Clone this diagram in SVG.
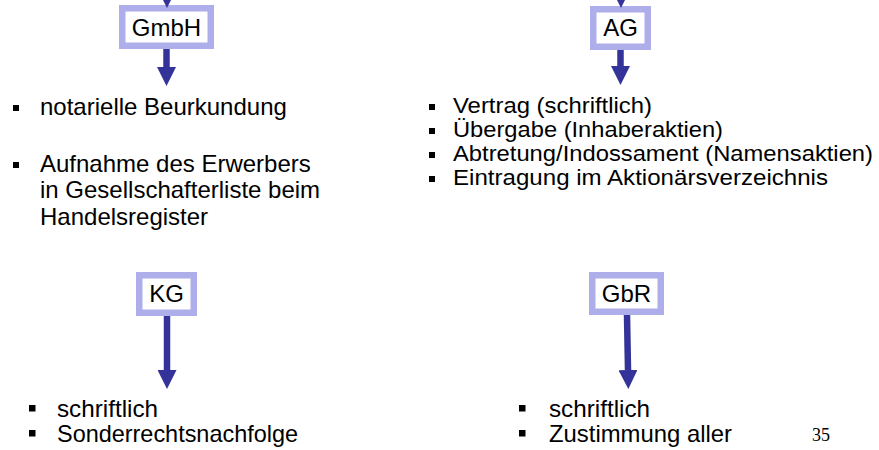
<svg xmlns="http://www.w3.org/2000/svg" width="879" height="450" viewBox="0 0 879 450">
<style>
.box{fill:#ffffff;stroke:#aeaeea;stroke-width:6.5}
.lbl{font-family:"Liberation Sans",Arial,sans-serif;font-size:24px;fill:#000;text-anchor:middle}
.t{font-family:"Liberation Sans",Arial,sans-serif;font-size:24px;fill:#000}
.tr{font-family:"Liberation Sans",Arial,sans-serif;font-size:21.4px;fill:#000}
.sh{stroke:#333399;stroke-width:6.5;fill:none}
.b{fill:#000}
.pg{font-family:"Liberation Serif","Times New Roman",serif;font-size:18px;fill:#000}
</style>
<defs>
<marker id="ah" markerUnits="userSpaceOnUse" markerWidth="19" markerHeight="19" viewBox="0 0 18 18" refX="0" refY="9" orient="auto">
<path d="M0,0 L18,9 L0,18 z" fill="#333399"/>
</marker>
</defs>

<g id="gmbh">
<rect class="box" x="122.25" y="8.25" width="88.5" height="37.5"/>
<text class="lbl" x="166.5" y="35.5">GmbH</text>
</g>
<g id="ag">
<rect class="box" x="593.25" y="9.25" width="54.5" height="37.5"/>
<text class="lbl" x="620.5" y="36">AG</text>
</g>
<g id="kg">
<rect class="box" x="139.25" y="275.25" width="54.5" height="37.5"/>
<text class="lbl" x="166.5" y="302">KG</text>
</g>
<g id="gbr">
<rect class="box" x="592.25" y="275.25" width="68.5" height="36.5"/>
<text class="lbl" x="626.5" y="302">GbR</text>
</g>

<g id="connectors">
<line class="sh" x1="167" y1="-30" x2="167" y2="-11" marker-end="url(#ah)"/>
<line class="sh" x1="621" y1="-30" x2="621" y2="-11" marker-end="url(#ah)"/>
<line class="sh" x1="166.5" y1="49" x2="166.5" y2="67" marker-end="url(#ah)"/>
<line class="sh" x1="620.5" y1="50" x2="620.5" y2="66" marker-end="url(#ah)"/>
<line class="sh" x1="167" y1="316" x2="167" y2="370" marker-end="url(#ah)"/>
<line class="sh" x1="627" y1="315" x2="628" y2="370" marker-end="url(#ah)"/>
</g>

<g id="gmbh-text">
<rect class="b" x="13" y="105" width="6" height="6"/>
<text class="t" x="40" y="115">notarielle Beurkundung</text>
<rect class="b" x="13" y="162" width="6" height="6"/>
<text class="t" x="40" y="172">Aufnahme des Erwerbers</text>
<text class="t" x="40" y="198">in Gesellschafterliste beim</text>
<text class="t" x="40" y="225">Handelsregister</text>
</g>

<g id="ag-text">
<rect class="b" x="429" y="104" width="6" height="6"/>
<text class="tr" x="453" y="113" textLength="199" lengthAdjust="spacingAndGlyphs">Vertrag (schriftlich)</text>
<rect class="b" x="429" y="128" width="6" height="6"/>
<text class="tr" x="453" y="137" textLength="270" lengthAdjust="spacingAndGlyphs">Übergabe (Inhaberaktien)</text>
<rect class="b" x="429" y="152" width="6" height="6"/>
<text class="tr" x="453" y="161" textLength="420" lengthAdjust="spacingAndGlyphs">Abtretung/Indossament (Namensaktien)</text>
<rect class="b" x="429" y="176" width="6" height="6"/>
<text class="tr" x="453" y="185" textLength="375" lengthAdjust="spacingAndGlyphs">Eintragung im Aktionärsverzeichnis</text>
</g>

<g id="kg-text">
<rect class="b" x="29" y="405" width="6.5" height="6.5"/>
<text class="t" x="57" y="417" font-size="22" textLength="101" lengthAdjust="spacingAndGlyphs">schriftlich</text>
<rect class="b" x="29" y="430" width="6.5" height="6.5"/>
<text class="t" x="57" y="442" font-size="22" textLength="241" lengthAdjust="spacingAndGlyphs">Sonderrechtsnachfolge</text>
</g>

<g id="gbr-text">
<rect class="b" x="519" y="405" width="6.5" height="6.5"/>
<text class="t" x="549" y="417" font-size="22" textLength="101" lengthAdjust="spacingAndGlyphs">schriftlich</text>
<rect class="b" x="519" y="430" width="6.5" height="6.5"/>
<text class="t" x="549" y="442" font-size="22" textLength="183" lengthAdjust="spacingAndGlyphs">Zustimmung aller</text>
</g>

<text class="pg" x="812" y="441">35</text>
</svg>
